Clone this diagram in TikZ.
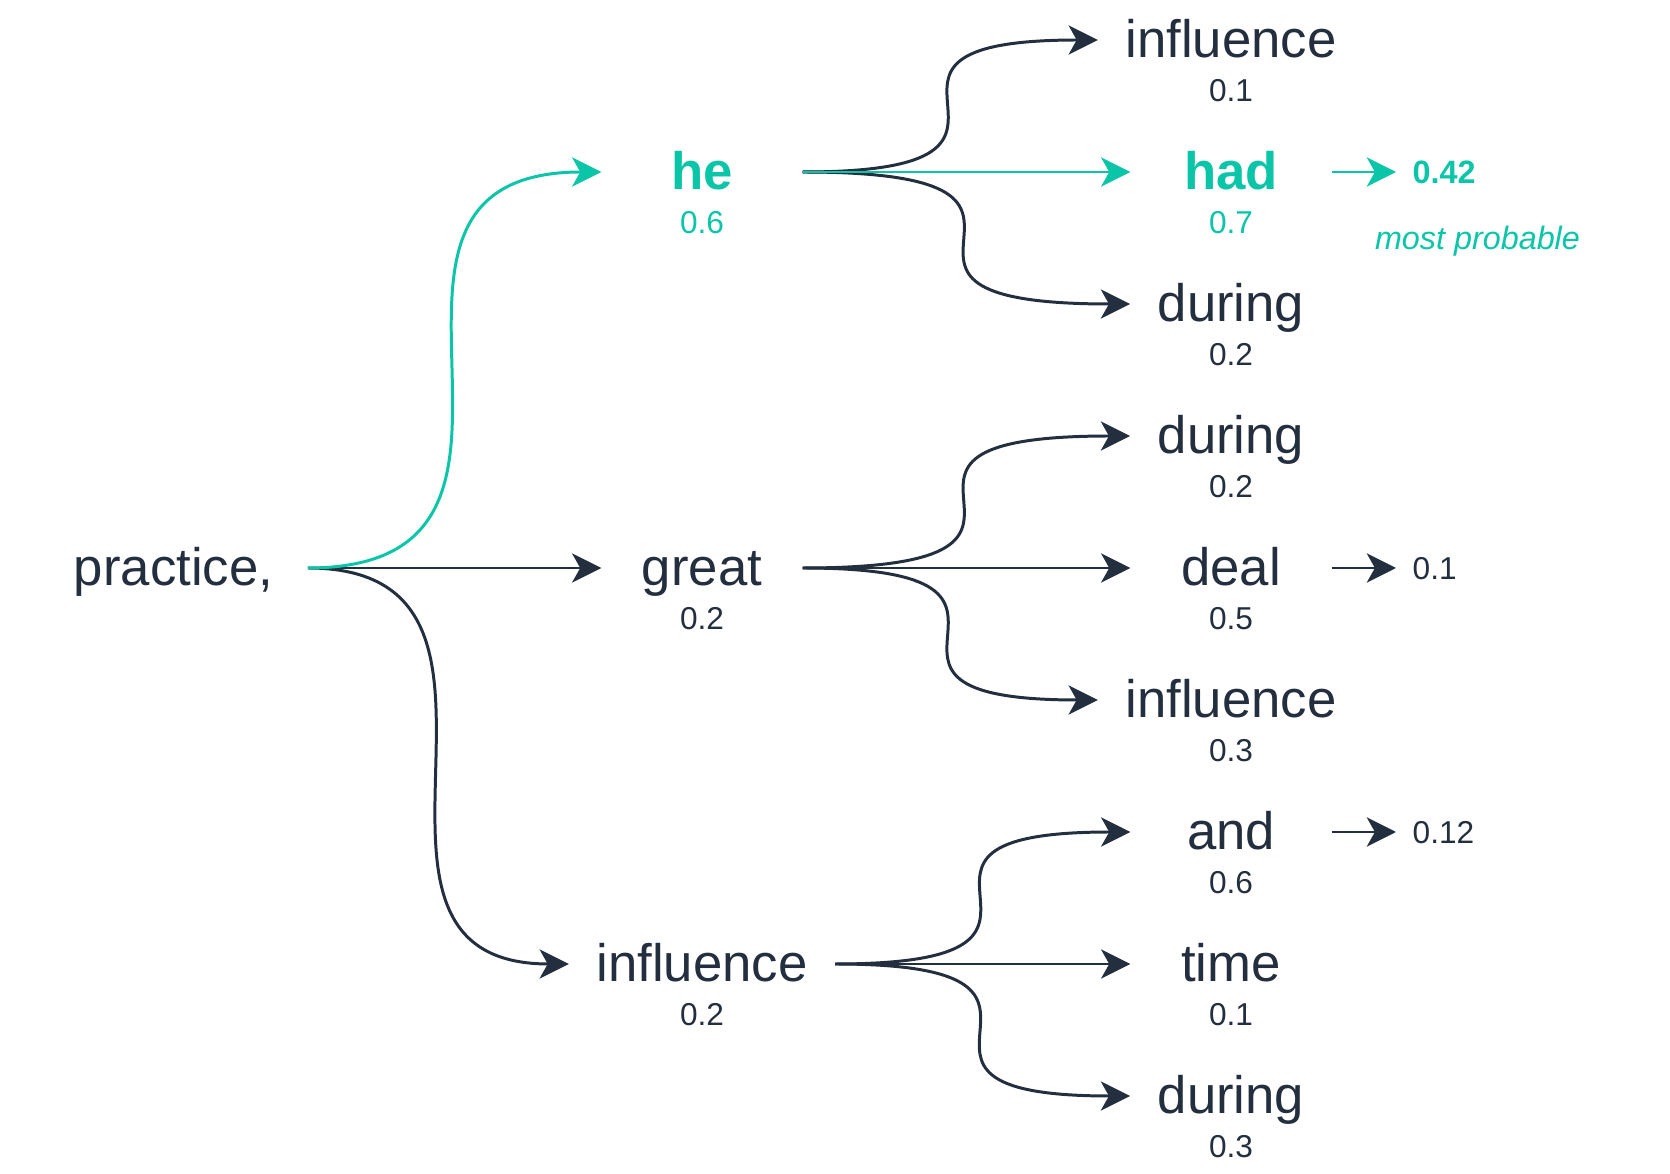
\documentclass[tikz,border=0pt]{standalone}
\usepackage{fontspec}
\setmainfont{Liberation Sans}
\usepackage{xcolor}
\usetikzlibrary{arrows, arrows.meta, positioning}

\definecolor{ink}{HTML}{232F3E}
\definecolor{mint}{HTML}{0BC5A8}

\tikzset{
  word/.style={font=\fontsize{15}{18}\selectfont, text=ink, minimum width=2cm, inner xsep=0.27cm, inner ysep=0pt, text height=10pt, text depth=0pt},
  prob/.style={font=\fontsize{9}{11}\selectfont, text=ink, inner xsep=0pt, inner ysep=0pt, text height=6.3pt, text depth=0pt},
  best/.style={text=mint},
  link/.style={draw=ink, line width=0.85pt, -{Stealth[length=8.3pt,width=8.3pt,inset=2.3pt]}},
  bestlink/.style={link, draw=mint},
  branch/.style={to path={.. controls (\tikztostart -| \tikztotarget) and (\tikztotarget -| \tikztostart) .. (\tikztotarget)}}
}

\begin{document}
\begin{tikzpicture}
\useasboundingbox (0,0) rectangle (16.7,11.74);

\node[word, inner xsep=0.34cm] (practice) at (1.735,6.06) {practice,}; %root

%first word
\node[word, best, font=\fontsize{15}{18}\selectfont\bfseries] (he) at (7.02,10.02) {he};
\node[prob, best, below=0.2cm of he] (he-p) {0.6};
\node[word] (great) at (7.02,6.06) {great};
\node[prob, below=0.2cm of great] (great-p) {0.2};
\node[word] (infl) at (7.02,2.10) {influence};
\node[prob, below=0.2cm of infl] (infl-p) {0.2};

%second word
\node[word] (he-infl) at (12.31,11.34) {influence};   \node[prob, below=0.2cm of he-infl] {0.1};
\node[word, best, font=\fontsize{15}{18}\selectfont\bfseries] (had) at (12.31,10.02) {had};
\node[prob, best, below=0.2cm of had] {0.7};
\node[word] (he-during) at (12.31,8.70) {during};     \node[prob, below=0.2cm of he-during] {0.2};
\node[word] (gr-during) at (12.31,7.38) {during};     \node[prob, below=0.2cm of gr-during] {0.2};
\node[word] (deal) at (12.31,6.06) {deal};            \node[prob, below=0.2cm of deal] {0.5};
\node[word] (gr-infl) at (12.31,4.74) {influence};    \node[prob, below=0.2cm of gr-infl] {0.3};
\node[word] (and) at (12.31,3.42) {and};              \node[prob, below=0.2cm of and] {0.6};
\node[word] (time) at (12.31,2.10) {time};            \node[prob, below=0.2cm of time] {0.1};
\node[word] (in-during) at (12.31,0.78) {during};     \node[prob, below=0.2cm of in-during] {0.3};

%sequence scores
\node[prob, best, font=\fontsize{9.2}{11}\selectfont\bfseries, anchor=west, inner xsep=0.16cm] (had-r) at (13.96,10.02) {0.42};
\node[prob, anchor=west, inner xsep=0.16cm] (deal-r) at (13.96,6.06) {0.1};
\node[prob, anchor=west, inner xsep=0.16cm] (and-r) at (13.96,3.42) {0.12};
\node[best, font=\fontsize{9.2}{11}\selectfont\itshape, anchor=base, inner sep=0pt] (note) at (14.775,9.24) {most probable};

\draw[link] (practice.east) -- (great.west);
\draw[link] (practice.east) to[branch] (infl.west);

\draw[link] (he.east) to[branch] (he-infl.west);
\draw[link] (he.east) to[branch] (he-during.west);
\draw[link] (great.east) to[branch] (gr-during.west);
\draw[link] (great.east) -- (deal.west);
\draw[link] (great.east) to[branch] (gr-infl.west);
\draw[link] (infl.east) to[branch] (and.west);
\draw[link] (infl.east) -- (time.west);
\draw[link] (infl.east) to[branch] (in-during.west);

\draw[link] (deal.east) -- (deal-r.west);
\draw[link] (and.east) -- (and-r.west);

%best path on top
\draw[bestlink] (practice.east) to[branch] (he.west);
\draw[bestlink] (he.east) -- (had.west);
\draw[bestlink] (had.east) -- (had-r.west);
\end{tikzpicture}
\end{document}
